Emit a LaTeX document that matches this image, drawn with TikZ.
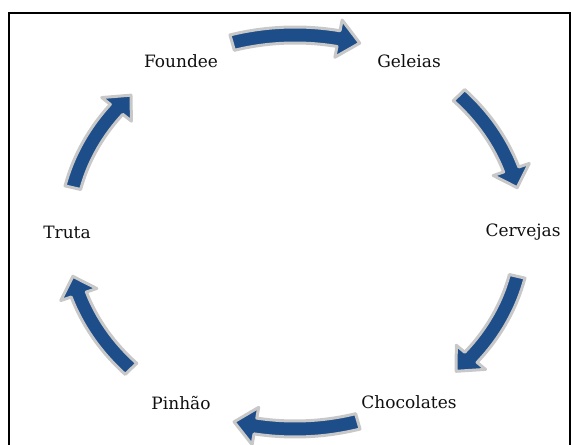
\documentclass[tikz,border=0pt]{standalone}
\usepackage{fontspec}
\setmainfont{DejaVu Serif}
\definecolor{arrowblue}{RGB}{30,78,138}
\definecolor{arrowrim}{RGB}{200,200,200}
\definecolor{labelink}{RGB}{15,15,15}
\begin{document}
\begin{tikzpicture}[x=1pt,y=1pt,
  cyclelabel/.style={text=labelink,font=\fontsize{17}{20}\selectfont,inner sep=0pt},
  cyclearrow/.style={fill=arrowblue,draw=arrowrim,line width=3pt,line join=round},
  frameline/.style={line width=2pt,draw=black}]
\useasboundingbox (0,0) rectangle (571,445);
% frame
\draw[frameline] (9,0) -- (9,432) -- (570,432) -- (570,0);
% labels placed on the ellipse (centre 295,213; radii 228,197)
\node[cyclelabel] (foundee)    at ({295+228*cos(120)},{213+197*sin(120)}) {Foundee};
\node[cyclelabel] (geleias)    at ({295+228*cos(60)}, {213+197*sin(60)})  {Geleias};
\node[cyclelabel] (cervejas)   at ({295+228*cos(0)},  {213+197*sin(0)})   {Cervejas};
\node[cyclelabel] (chocolates) at ({295+228*cos(-60)},{213+197*sin(-60)}) {Chocolates};
\node[cyclelabel] (pinhao)     at ({295+228*cos(-120)},{213+197*sin(-120)}) {Pinhão};
\node[cyclelabel] (truta)      at ({295+228*cos(180)},{213+197*sin(180)}) {Truta};
% curved block arrows: tail angle / tip angle
\foreach \ta/\tb in {106/73.5, 44/13, -13/-45, -74/-105.5, -136/-167, 167/136}{
  \pgfmathsetmacro\tc{\tb+5.5}
  \draw[cyclearrow]
    plot[domain=\ta:\tc,samples=24] ({295+236*cos(\x)},{213+205*sin(\x)})
    -- ({295+247*cos(\tc)},{213+216*sin(\tc)})
    -- ({295+228*cos(\tb)},{213+197*sin(\tb)})
    -- ({295+209*cos(\tc)},{213+178*sin(\tc)})
    -- plot[domain=\tc:\ta,samples=24] ({295+220*cos(\x)},{213+189*sin(\x)})
    -- cycle;
}
\end{tikzpicture}
\end{document}
